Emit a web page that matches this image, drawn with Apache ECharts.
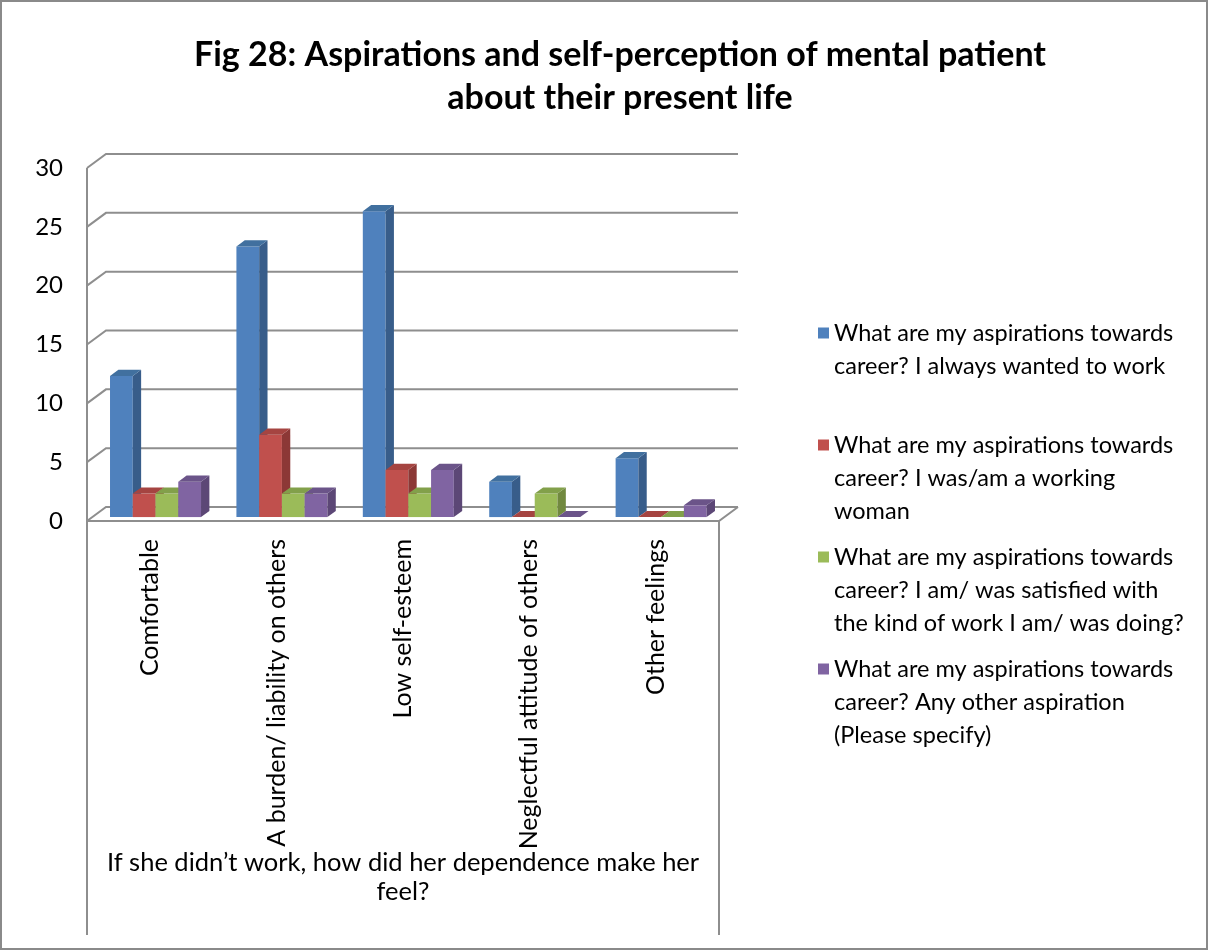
<!DOCTYPE html>
<html>
<head>
<meta charset="utf-8">
<script src="https://cdn.jsdelivr.net/npm/echarts@6/dist/echarts.min.js"></script>
<style>
  html, body { margin: 0; padding: 0; background: #fff; }
  #chart { width: 1209px; height: 951px; }
</style>
</head>
<body>
<div id="chart"></div>
<script>
// categories on the x axis
const categories = [
  'Comfortable',
  'A burden/ liability on others',
  'Low self-esteem',
  'Neglectful attitude of others',
  'Other feelings'
];

// series names (as in legend)
const seriesNames = [
  'What are my aspirations towards career? I always wanted to work',
  'What are my aspirations towards career? I was/am a working woman',
  'What are my aspirations towards career? I am/ was satisfied with the kind of work I am/ was doing?',
  'What are my aspirations towards career? Any other aspiration (Please specify)'
];

// how the legend wraps each name
const legendLines = [
  ['What are my aspirations towards', 'career? I always wanted to work', ' '],
  ['What are my aspirations towards', 'career? I was/am a working', 'woman'],
  ['What are my aspirations towards', 'career? I am/ was satisfied with', 'the kind of work I am/ was doing?'],
  ['What are my aspirations towards', 'career? Any other aspiration', '(Please specify)']
];

// values
const alwaysWanted = [12, 23, 26, 3, 5];
const workingWoman = [2, 7, 4, 0, 0];
const satisfied = [2, 2, 2, 2, 0];
const otherAspiration = [3, 2, 4, 0, 1];

const yTicks = [0, 5, 10, 15, 20, 25, 30];

const allValues = [alwaysWanted, workingWoman, satisfied, otherAspiration];

// colours (excel 2007 style)
const frontColors = ['#4F81BD', '#C0504D', '#9BBB59', '#8064A2'];
const sideColors = ['#385D8A', '#8C3836', '#71893F', '#5C4776'];
const topColors = ['#41709F', '#A54441', '#82A04A', '#6B5489'];
const gridColor = '#8E8E8E';
const fontFamily = 'Lato, "Open Sans", sans-serif';

// depth of the 3d box (pixels)
const depth = { x: 19, y: -14 };
const barStart = 0.28;  // where bars sit inside the box depth
const barDepth = 0.44;
const barWidth = 0.18;  // part of a category band per bar

const chart = echarts.init(document.getElementById('chart'));

// back wall, left wall and floor lines
function renderWall(params, api) {
  const v = api.value(1);
  const cs = params.coordSys;
  const y = api.coord([0, v])[1];
  const left = cs.x;
  const right = cs.x + cs.width;
  const line = (pts) => ({
    type: 'polyline',
    shape: { points: pts },
    style: { stroke: gridColor, lineWidth: 2, fill: null }
  });
  const children = [line([[left, y], [left + depth.x, y + depth.y], [right + depth.x, y + depth.y]])];
  if (v === 0) {
    const yTop = api.coord([0, yTicks[yTicks.length - 1]])[1];
    const yEnd = api.getHeight() - 16;
    children.push(line([[left, y], [right, y], [right + depth.x, y + depth.y]]));
    children.push(line([[left, yTop], [left, yEnd]]));
    children.push(line([[right, y], [right, yEnd]]));
  }
  return { type: 'group', children: children };
}

// one 3d bar: front, side and top faces
function barRenderer(k) {
  return function (params, api) {
    const idx = api.value(0);
    const val = api.value(1);
    const base = api.coord([idx, 0]);
    const top = api.coord([idx, val]);
    const band = api.size([1, 0])[0];
    const bw = band * barWidth;
    const x0 = base[0] - 2 * bw + k * bw + depth.x * barStart;
    const y0 = base[1] + depth.y * barStart;
    const y1 = top[1] + depth.y * barStart;
    const dx = depth.x * barDepth;
    const dy = depth.y * barDepth;
    return {
      type: 'group',
      children: [
        {
          type: 'rect',
          shape: { x: x0, y: y1, width: bw, height: y0 - y1 },
          style: { fill: frontColors[k] }
        },
        {
          type: 'polygon',
          shape: { points: [[x0 + bw, y1], [x0 + bw + dx, y1 + dy], [x0 + bw + dx, y0 + dy], [x0 + bw, y0]] },
          style: { fill: sideColors[k] }
        },
        {
          type: 'polygon',
          shape: { points: [[x0, y1], [x0 + dx, y1 + dy], [x0 + bw + dx, y1 + dy], [x0 + bw, y1]] },
          style: { fill: topColors[k] }
        }
      ]
    };
  };
}

const barSeries = allValues.map((vals, k) => ({
  name: seriesNames[k],
  type: 'custom',
  renderItem: barRenderer(k),
  itemStyle: { color: frontColors[k] },
  encode: { x: 0, y: 1 },
  z: 3 + k,
  data: vals.map((v, i) => [i, v])
}));

const option = {
  backgroundColor: '#fff',
  animation: false,
  title: {
    text: 'Fig 28: Aspirations and self-perception of mental patient\nabout their present life',
    left: 620,
    textAlign: 'center',
    top: 34,
    padding: 0,
    textStyle: { fontFamily: fontFamily, fontSize: 34, fontWeight: 'bold', lineHeight: 43, color: '#000' }
  },
  legend: {
    orient: 'vertical',
    left: 818,
    top: 250.5,
    padding: 0,
    itemGap: -53,
    itemWidth: 11,
    itemHeight: 11,
    icon: 'rect',
    data: seriesNames,
    // two blank lines above so the first line sits next to the square
    formatter: (name) => [' ', ' '].concat(legendLines[seriesNames.indexOf(name)]).join('\n'),
    textStyle: { fontFamily: fontFamily, fontSize: 23.5, lineHeight: 33, color: '#000' }
  },
  grid: { left: 87, right: 490, top: 168, bottom: 430 },
  xAxis: {
    type: 'category',
    data: categories,
    axisLine: { show: false },
    axisTick: { show: false },
    axisLabel: { rotate: 90, interval: 0, margin: 18, fontFamily: fontFamily, fontSize: 25, color: '#000' },
    name: 'If she didn\u2019t work, how did her dependence make her\nfeel?',
    nameLocation: 'middle',
    nameGap: 327,
    nameMoveOverlap: false,
    nameTextStyle: { fontFamily: fontFamily, fontSize: 25.5, lineHeight: 29, color: '#000' }
  },
  yAxis: {
    type: 'value',
    min: 0,
    max: 30,
    interval: 5,
    axisLine: { show: false },
    axisTick: { show: false },
    splitLine: { show: false },
    axisLabel: { margin: 24, fontFamily: fontFamily, fontSize: 24, color: '#000' }
  },
  graphic: [{
    type: 'rect',
    shape: { x: 1, y: 1, width: 1206, height: 948 },
    style: { fill: null, stroke: '#8A8A8A', lineWidth: 2 },
    silent: true
  }],
  series: [{
    type: 'custom',
    name: 'wall',
    silent: true,
    renderItem: renderWall,
    encode: { x: 0, y: 1 },
    z: 1,
    data: yTicks.map((v) => [0, v])
  }].concat(barSeries)
};

chart.setOption(option);
</script>
</body>
</html>
